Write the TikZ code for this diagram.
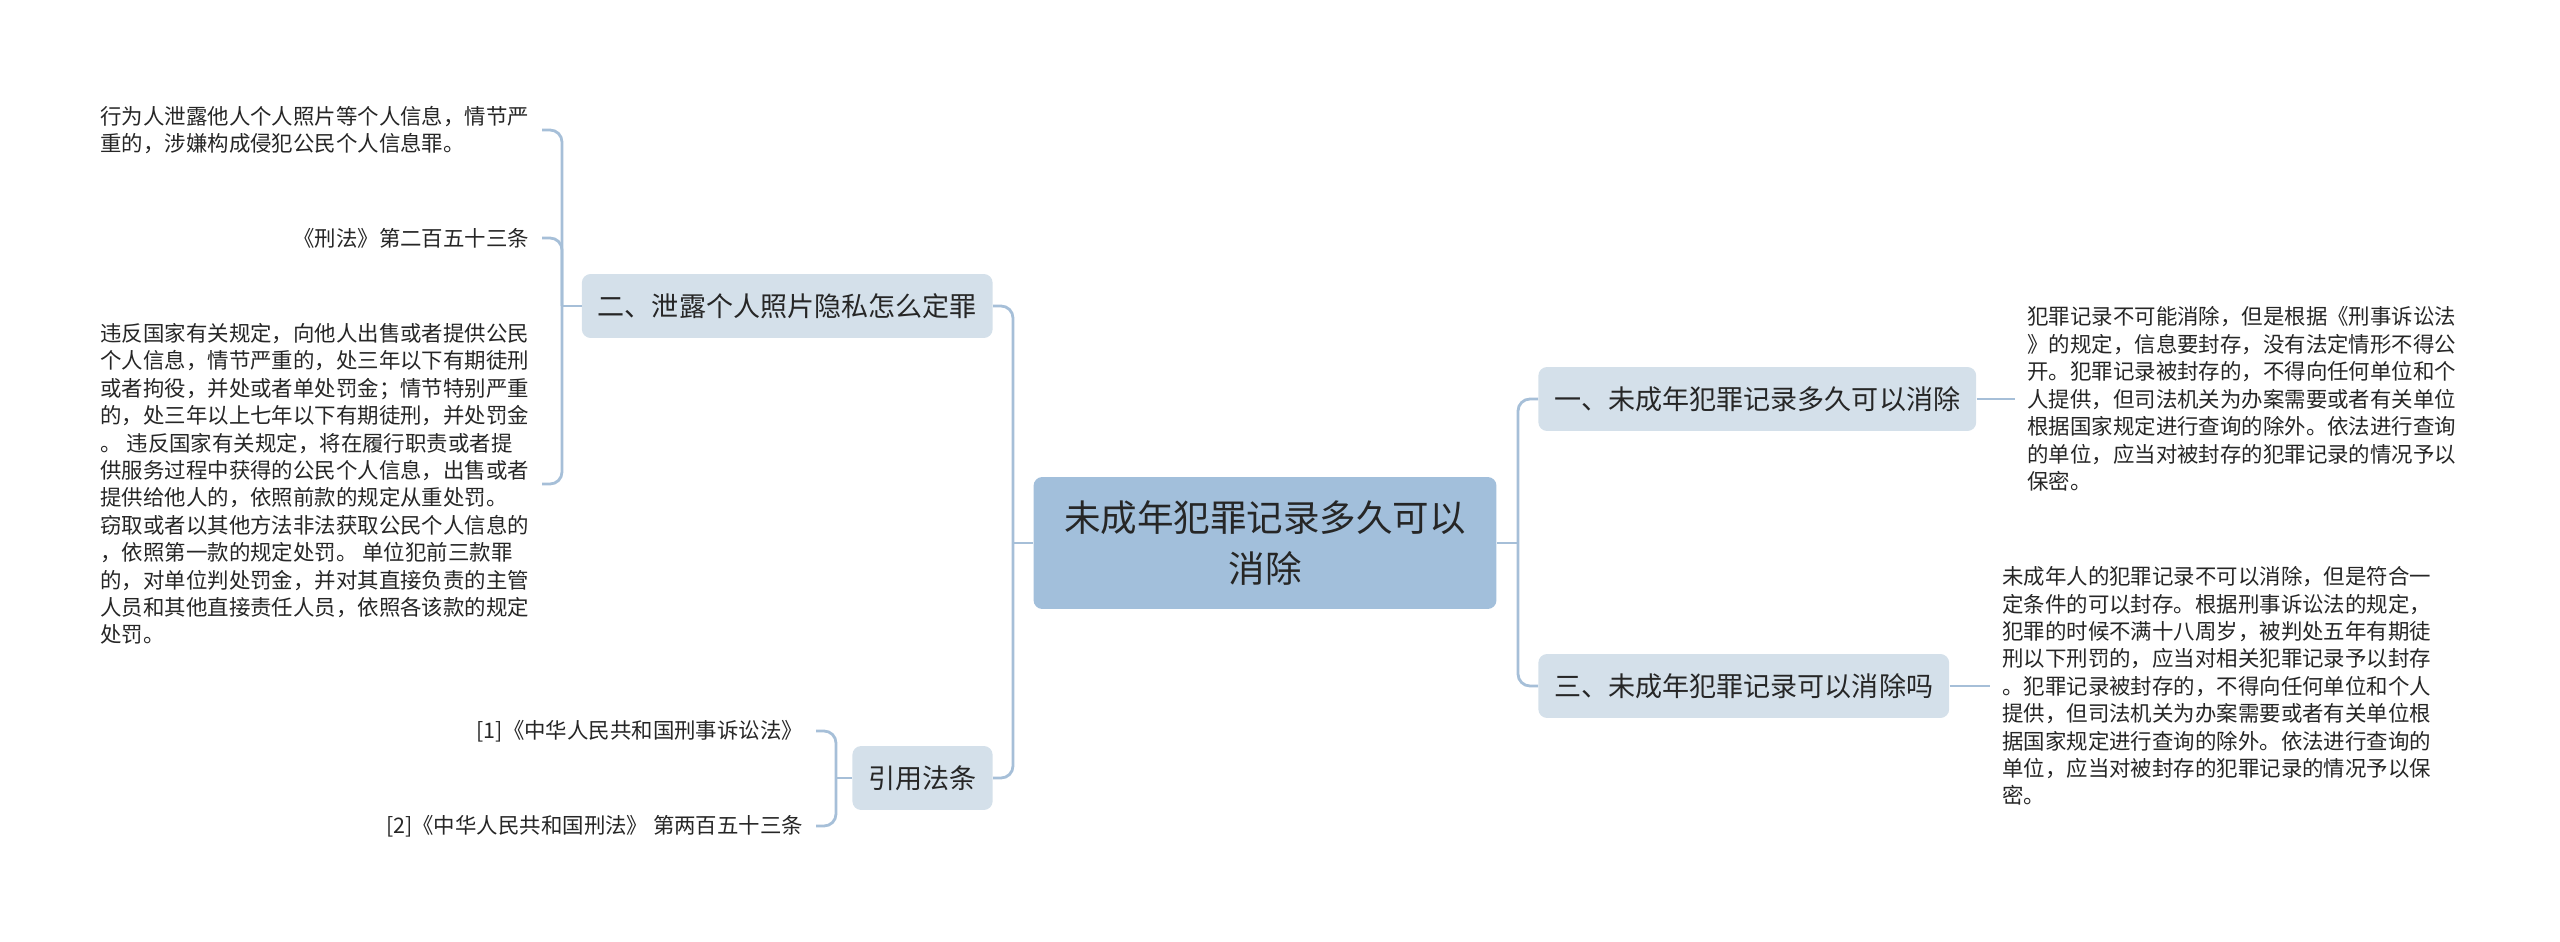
\documentclass[tikz,border=0pt]{standalone}
\usepackage{fontspec}
\newfontfamily\cjk{Noto Sans CJK SC}
\usetikzlibrary{positioning}
\definecolor{Ink}{HTML}{262626}
\definecolor{TopicBlue}{HTML}{A2BFDB}
\definecolor{SubBlue}{HTML}{D4E0EA}
\definecolor{LineBlue}{HTML}{A6BFD8}
\tikzset{
  topic/.style={
    rounded corners=5pt, fill=TopicBlue, text=Ink, align=center,
    minimum width=9.26cm, minimum height=2.64cm,
    font={\cjk\fontsize{20.8}{28.7}\selectfont}
  },
  subtopic/.style={
    rounded corners=5pt, fill=SubBlue, text=Ink,
    inner xsep=0.32cm, minimum height=1.28cm,
    font={\cjk\fontsize{15.4}{18}\selectfont}
  },
  leaf/.style={
    text=Ink, inner xsep=0.25cm, inner ysep=0pt, align=left,
    font={\cjk\fontsize{12.2}{15.6}\selectfont}
  },
  linkline/.style={draw=LineBlue, line width=1.6pt, rounded corners=0.24cm}
}
\begin{document}
\begin{tikzpicture}[x=0.02cm,y=-0.02cm]
    \useasboundingbox (0,0) rectangle (2560,942);
    \node[topic] (topic) at (1265,543) {未成年犯罪记录多久可以\\消除};
    \node[subtopic,anchor=east] (leak) at (993,306) {二、泄露个人照片隐私怎么定罪};
    \node[subtopic,anchor=east] (cite) at (993,778) {引用法条};
    \node[subtopic,anchor=west] (howlong) at (1538,399) {一、未成年犯罪记录多久可以消除};
    \node[subtopic,anchor=west] (canerase) at (1538,686) {三、未成年犯罪记录可以消除吗};
    \node[leaf,anchor=east] (leakcase) at (542,130) {行为人泄露他人个人照片等个人信息，情节严\\重的，涉嫌构成侵犯公民个人信息罪。};
    \node[leaf,anchor=east] (leaklaw) at (542,238) {《刑法》第二百五十三条};
    \node[leaf,anchor=east] (leakrule) at (542,484) {违反国家有关规定，向他人出售或者提供公民\\个人信息，情节严重的，处三年以下有期徒刑\\或者拘役，并处或者单处罚金；情节特别严重\\的，处三年以上七年以下有期徒刑，并处罚金\\。 违反国家有关规定，将在履行职责或者提\\供服务过程中获得的公民个人信息，出售或者\\提供给他人的，依照前款的规定从重处罚。\\窃取或者以其他方法非法获取公民个人信息的\\，依照第一款的规定处罚。 单位犯前三款罪\\的，对单位判处罚金，并对其直接负责的主管\\人员和其他直接责任人员，依照各该款的规定\\处罚。};
    \node[leaf,anchor=east] (citeone) at (816,731) {[1]《中华人民共和国刑事诉讼法》};
    \node[leaf,anchor=east] (citetwo) at (816,826) {[2]《中华人民共和国刑法》 第两百五十三条};
    \node[leaf,right=0.76cm of howlong] (howlongtext) {犯罪记录不可能消除，但是根据《刑事诉讼法\\》的规定，信息要封存，没有法定情形不得公\\开。犯罪记录被封存的，不得向任何单位和个\\人提供，但司法机关为办案需要或者有关单位\\根据国家规定进行查询的除外。依法进行查询\\的单位，应当对被封存的犯罪记录的情况予以\\保密。};
    \node[leaf,right=0.8cm of canerase] (canerasetext) {未成年人的犯罪记录不可以消除，但是符合一\\定条件的可以封存。根据刑事诉讼法的规定，\\犯罪的时候不满十八周岁，被判处五年有期徒\\刑以下刑罚的，应当对相关犯罪记录予以封存\\。犯罪记录被封存的，不得向任何单位和个人\\提供，但司法机关为办案需要或者有关单位根\\据国家规定进行查询的除外。依法进行查询的\\单位，应当对被封存的犯罪记录的情况予以保\\密。};
    \coordinate (lspine) at (1013,543);
    \coordinate (rspine) at (1518,543);
    \coordinate (leakjoin) at (562,306);
    \coordinate (citejoin) at (836,778);
    \draw[linkline] (topic.west) -- (lspine);
    \draw[linkline] (leak.east) -| (lspine) |- (cite.east);
    \draw[linkline] (topic.east) -- (rspine);
    \draw[linkline] (howlong.west) -| (rspine) |- (canerase.west);
    \draw[linkline] (leak.west) -- (leakjoin);
    \draw[linkline] (leakcase.east) -| (leakjoin) |- (leakrule.east);
    \draw[linkline] (leaklaw.east) -| (leakjoin);
    \draw[linkline] (cite.west) -- (citejoin);
    \draw[linkline] (citeone.east) -| (citejoin) |- (citetwo.east);
    \draw[linkline] (howlong.east) -- (howlongtext.west);
    \draw[linkline] (canerase.east) -- (canerasetext.west);
  \end{tikzpicture}
\end{document}
